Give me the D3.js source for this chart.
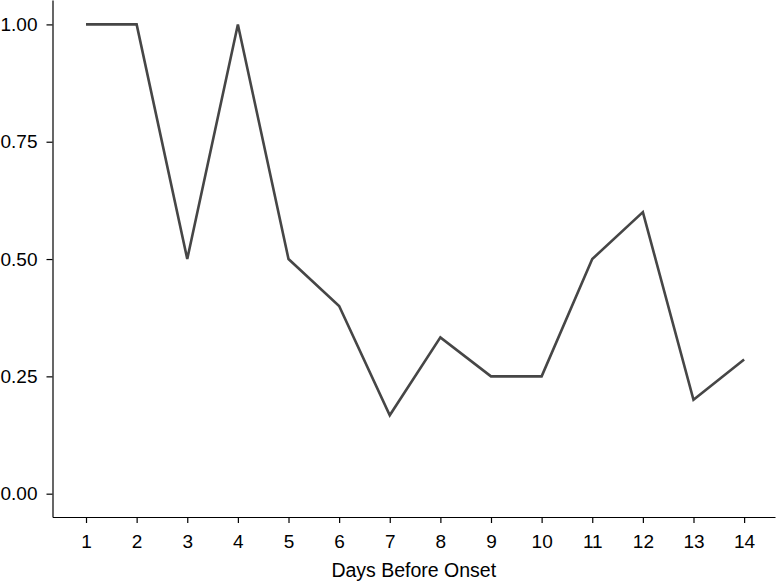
<!DOCTYPE html>
<html>
<head>
<meta charset="utf-8">
<script src="https://cdn.jsdelivr.net/npm/d3@7"></script>
<style>
    body { margin: 0; background: #fff; }
    .axis text { font-family: "Liberation Sans", Arial, sans-serif; font-size: 19px; fill: #000; }
    .axis path, .axis line { stroke: #000; stroke-width: 1.2; }
    .x-title { font-family: "Liberation Sans", Arial, sans-serif; font-size: 19.5px; fill: #000; }
</style>
</head>
<body>
<div id="chart"></div>
<script>
// --------- DATA ---------
const days = [1, 2, 3, 4, 5, 6, 7, 8, 9, 10, 11, 12, 13, 14];
const values = [1.0, 1.0, 0.5, 1.0, 0.5, 0.4, 0.167, 0.333, 0.25, 0.25, 0.5, 0.6, 0.2, 0.286];
const yTicks = [0, 0.25, 0.5, 0.75, 1.0];
const xLabel = "Days Before Onset";

// --------- GRAPHING ---------
let width = 777, height = 582;
let plot = {left: 52.5, right: 775, top: 0, bottom: 517};

let svg = d3.select("#chart")
    .append("svg")
    .attr("width", width)
    .attr("height", height);

let xScale = d3.scaleLinear()
    .domain([0.338, 14.61])
    .range([plot.left, plot.right]);

let yScale = d3.scaleLinear()
    .domain([-0.0497, 1.052])
    .range([plot.bottom, plot.top]);

// Axes
svg.append("g")
    .attr("class", "axis")
    .attr("transform", "translate(0," + plot.bottom + ")")
    .call(d3.axisBottom(xScale).tickValues(days).tickFormat(d3.format("d")).tickSize(6).tickSizeOuter(0).tickPadding(12));

svg.append("g")
    .attr("class", "axis")
    .attr("transform", "translate(" + plot.left + ",0)")
    .call(d3.axisLeft(yScale).tickValues(yTicks).tickFormat(d3.format(".2f")).tickSize(6).tickSizeOuter(0).tickPadding(9));

// Axis title
svg.append("text")
    .attr("class", "x-title")
    .attr("x", (plot.left + plot.right) / 2)
    .attr("y", 577)
    .attr("text-anchor", "middle")
    .text(xLabel);

// Line
let line = d3.line()
    .x((d, i) => xScale(days[i]))
    .y(d => yScale(d));

svg.append("path")
    .attr("fill", "none")
    .attr("stroke", "#464646")
    .attr("stroke-width", 2.6)
    .attr("stroke-linejoin", "miter")
    .attr("d", line(values));
</script>
</body>
</html>
